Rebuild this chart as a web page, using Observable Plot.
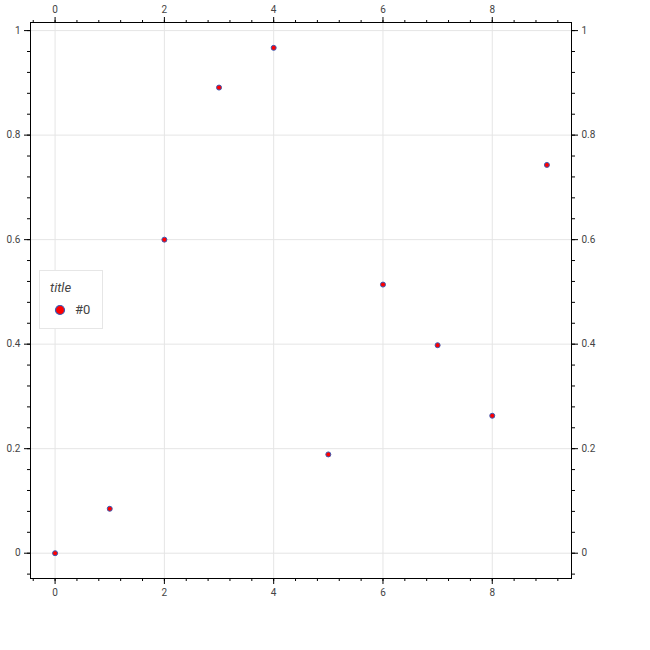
<!DOCTYPE html>
<html><head>
<script src="https://cdn.jsdelivr.net/npm/d3@7"></script>
<script src="https://cdn.jsdelivr.net/npm/@observablehq/plot@0.6"></script>
<style>
body{margin:0;font-family:Roboto,"DejaVu Sans",sans-serif;}
#wrap{position:relative;width:650px;height:650px;}
#legend{position:absolute;left:39px;top:270px;width:64px;height:59px;background:#fff;border:1px solid #e6e6e6;box-sizing:border-box;font-size:13px;color:#444;}
</style></head><body>
<div id="wrap"><div id="chart"></div>
<div id="legend">
<div style="position:absolute;left:10px;top:9px;font-style:italic;">title</div>
<svg style="position:absolute;left:14px;top:33px" width="12" height="12"><circle cx="6" cy="6" r="4.5" fill="red" stroke="#3b5bb5" stroke-width="1.2"/></svg>
<div style="position:absolute;left:35px;top:31px;">#0</div>
</div></div>
<script>
const xs = [0,1,2,3,4,5,6,7,8,9];
const ys = [0,0.085,0.6,0.891,0.967,0.189,0.514,0.398,0.263,0.743];
const data = xs.map((x,i)=>({x, y: ys[i]}));
const xMajor = [0,2,4,6,8];
const yMajor = [0,0.2,0.4,0.6,0.8,1];
const xMinor = d3.range(-0.4, 9.45, 0.4).map(v=>+v.toFixed(2));
const yMinor = d3.range(-0.04, 1.017, 0.04).map(v=>+v.toFixed(2));
const tickStyle = {fontSize:10, color:"#444"};
const plot = Plot.plot({
  width:650, height:650,
  marginLeft:30, marginTop:22, marginRight:79, marginBottom:72,
  style:{fontFamily:"Roboto, sans-serif", fontSize:"10px", color:"#444"},
  x:{domain:[-0.45,9.45]},
  y:{domain:[-0.0484,1.0155]},
  marks:[
    Plot.gridX(xMajor,{stroke:"#e5e5e5", strokeOpacity:1}),
    Plot.gridY(yMajor,{stroke:"#e5e5e5", strokeOpacity:1}),
    Plot.axisX(xMinor,{anchor:"bottom", tickSize:3, text:null, label:null, stroke:"black"}),
    Plot.axisX(xMinor,{anchor:"top", tickSize:3, text:null, label:null, stroke:"black"}),
    Plot.axisY(yMinor,{anchor:"left", tickSize:3, text:null, label:null, stroke:"black"}),
    Plot.axisY(yMinor,{anchor:"right", tickSize:3, text:null, label:null, stroke:"black"}),
    Plot.axisX(xMajor,{anchor:"bottom", tickSize:6, tickPadding:4, label:null, stroke:"black", fill:"#444"}),
    Plot.axisX(xMajor,{anchor:"top", tickSize:6, tickPadding:4, label:null, stroke:"black", fill:"#444"}),
    Plot.axisY(yMajor,{anchor:"left", tickSize:6, tickPadding:4, label:null, stroke:"black", fill:"#444", tickFormat:d=>String(d)}),
    Plot.axisY(yMajor,{anchor:"right", tickSize:6, tickPadding:4, label:null, stroke:"black", fill:"#444", tickFormat:d=>String(d)}),
    Plot.frame({stroke:"black", strokeWidth:1}),
    Plot.dot(data,{x:"x", y:"y", r:2.5, fill:"red", stroke:"#3b5bb5", strokeWidth:1})
  ]
});
document.getElementById("chart").append(plot);
</script></body></html>
